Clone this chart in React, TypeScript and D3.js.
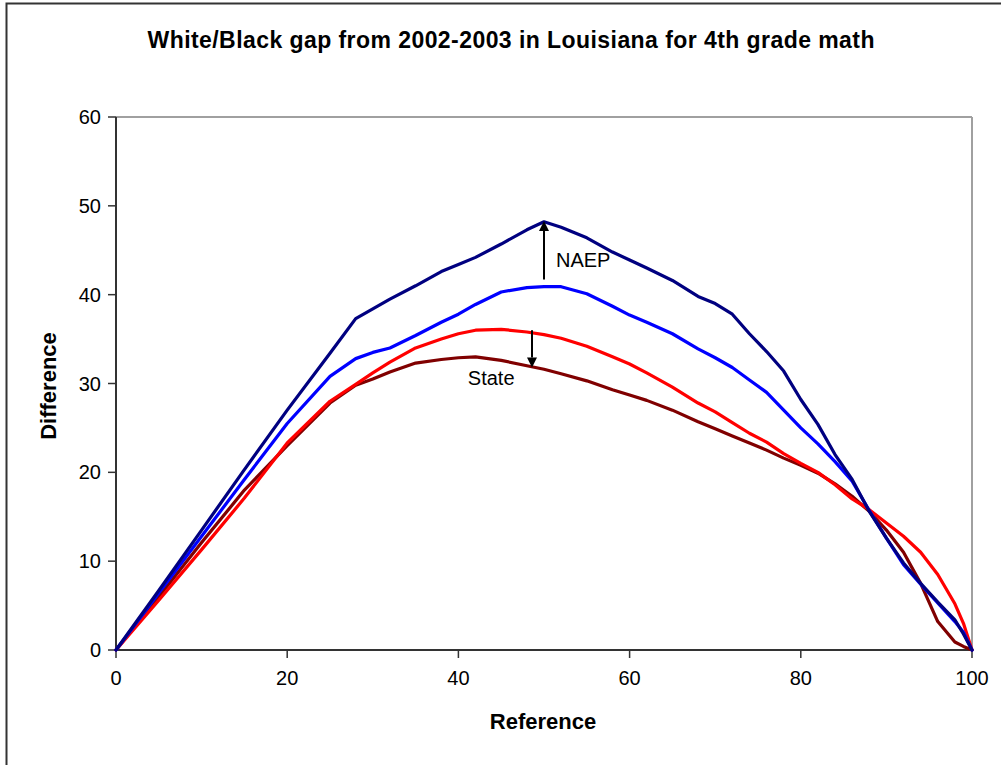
import React from "react";
import * as d3 from "d3";

const reference = [0, 5, 10, 15, 20, 25, 28, 30, 32, 35, 38, 40, 42, 45, 48, 50, 52, 55, 58, 60, 62, 65, 68, 70, 72, 74, 76, 78, 80, 82, 84, 86, 88, 90, 92, 94, 96, 98, 99, 100];

const naepUpper = [0, 6.7, 13.5, 20.3, 27.0, 33.4, 37.3, 38.4, 39.5, 41.0, 42.6, 43.4, 44.2, 45.7, 47.3, 48.2, 47.6, 46.4, 44.8, 43.9, 43.0, 41.6, 39.8, 39.0, 37.8, 35.6, 33.6, 31.4, 28.2, 25.4, 22.0, 19.2, 15.6, 12.6, 9.8, 7.5, 5.4, 3.4, 1.8, 0];
const naepLower = [0, 6.4, 12.8, 19.2, 25.5, 30.8, 32.8, 33.5, 34.0, 35.4, 36.9, 37.8, 38.9, 40.3, 40.8, 40.9, 40.9, 40.1, 38.7, 37.7, 36.9, 35.6, 33.9, 32.9, 31.8, 30.4, 29.0, 27.0, 25.0, 23.2, 21.2, 19.0, 15.7, 12.6, 9.6, 7.4, 5.3, 3.2, 2.0, 0];
const stateUpper = [0, 5.6, 11.3, 17.1, 23.3, 28.0, 29.9, 31.2, 32.4, 34.0, 35.0, 35.6, 36.0, 36.1, 35.8, 35.5, 35.1, 34.2, 33.0, 32.2, 31.2, 29.6, 27.8, 26.8, 25.6, 24.4, 23.4, 22.1, 21.0, 20.0, 18.6, 17.0, 15.8, 14.3, 12.8, 11.0, 8.5, 5.2, 3.0, 0];
const stateLower = [0, 6.0, 12.1, 18.0, 23.0, 27.8, 29.8, 30.5, 31.3, 32.3, 32.7, 32.9, 33.0, 32.6, 32.0, 31.6, 31.1, 30.3, 29.3, 28.7, 28.1, 27.0, 25.7, 24.9, 24.1, 23.3, 22.5, 21.6, 20.8, 19.9, 18.7, 17.3, 15.6, 13.5, 11.0, 7.5, 3.2, 0.9, 0.4, 0];

const xTicks = [0, 20, 40, 60, 80, 100];
const yTicks = [0, 10, 20, 30, 40, 50, 60];

const seriesNames = ["stateLower", "stateUpper", "naepLower", "naepUpper"];
const seriesValues = [stateLower, stateUpper, naepLower, naepUpper];
const seriesColors = ["#800000", "#ff0000", "#0000ff", "#000080"];

// annotation arrows: x, from y, to y (arrowhead at "to")
const arrowX = [50.0, 48.6];
const arrowFrom = [41.7, 36.0];
const arrowTo = [48.3, 31.8];
const labelText = ["NAEP", "State"];
const labelX = [51.4, 41.1];
const labelY = [43.1, 29.8];

const title = "White/Black gap from 2002-2003 in Louisiana for 4th grade math";
const xTitle = "Reference";
const yTitle = "Difference";

const FONT = "'Liberation Sans', Arial, sans-serif";

export default function App() {
  const W = 1001;
  const H = 765;
  const left = 116;
  const right = 972;
  const top = 117;
  const bottom = 650;

  const x = d3.scaleLinear().domain([0, 100]).range([left, right]);
  const y = d3.scaleLinear().domain([0, 60]).range([bottom, top]);

  const line = d3
    .line<number>()
    .x((_, i) => x(reference[i]))
    .y((d) => y(d));

  return (
    <svg
      width={W}
      height={H}
      style={{ position: "absolute", left: 0, top: 0, background: "#fff" }}
      fontFamily={FONT}
    >
      <rect x={0} y={0} width={W} height={H} fill="#fff" />
      <rect x={6.5} y={3.5} width={W + 20} height={H + 20} fill="none" stroke="#333" strokeWidth={2} />

      <text x={511} y={48} textAnchor="middle" fontSize={23} fontWeight="bold" textLength={727} lengthAdjust="spacing">
        {title}
      </text>

      {/* plot frame: top & right gray */}
      <line x1={left} y1={top} x2={right} y2={top} stroke="#a0a0a0" strokeWidth={2} />
      <line x1={right} y1={top} x2={right} y2={bottom} stroke="#a0a0a0" strokeWidth={2} />

      {/* y axis */}
      <line x1={left} y1={top} x2={left} y2={bottom} stroke="#333" strokeWidth={2} />
      {yTicks.map((t) => (
        <g key={"y" + t}>
          <line x1={left - 8} x2={left} y1={y(t)} y2={y(t)} stroke="#333" strokeWidth={1.5} />
          <text x={101} y={y(t) + 7} textAnchor="end" fontSize={20} fill="#000">
            {t}
          </text>
        </g>
      ))}

      {/* x axis */}
      <line x1={left} y1={bottom} x2={right} y2={bottom} stroke="#333" strokeWidth={2} />
      {xTicks.map((t) => (
        <g key={"x" + t}>
          <line x1={x(t)} x2={x(t)} y1={bottom} y2={bottom + 8} stroke="#333" strokeWidth={1.5} />
          <text x={x(t)} y={685} textAnchor="middle" fontSize={20} fill="#000">
            {t}
          </text>
        </g>
      ))}

      <text x={543} y={729} textAnchor="middle" fontSize={22} fontWeight="bold">
        {xTitle}
      </text>
      <text
        transform={`translate(56, 386) rotate(-90)`}
        textAnchor="middle"
        fontSize={22}
        fontWeight="bold"
      >
        {yTitle}
      </text>

      {seriesValues.map((vals, i) => (
        <path
          key={seriesNames[i]}
          d={line(vals) || ""}
          fill="none"
          stroke={seriesColors[i]}
          strokeWidth={3.2}
          strokeLinejoin="round"
          strokeLinecap="round"
        />
      ))}

      {arrowX.map((ax, i) => {
        const px = x(ax);
        const y0 = y(arrowFrom[i]);
        const y1 = y(arrowTo[i]);
        const dir = y1 < y0 ? -1 : 1;
        const headLen = 10;
        const headW = 5;
        return (
          <g key={"a" + i}>
            <line x1={px} y1={y0} x2={px} y2={y1 - dir * headLen} stroke="#000" strokeWidth={2} />
            <path
              d={`M${px},${y1} L${px - headW},${y1 - dir * headLen} L${px + headW},${y1 - dir * headLen} Z`}
              fill="#000"
            />
          </g>
        );
      })}

      {labelText.map((t, i) => (
        <text key={t} x={x(labelX[i])} y={y(labelY[i])} fontSize={20} fill="#000">
          {t}
        </text>
      ))}
    </svg>
  );
}
